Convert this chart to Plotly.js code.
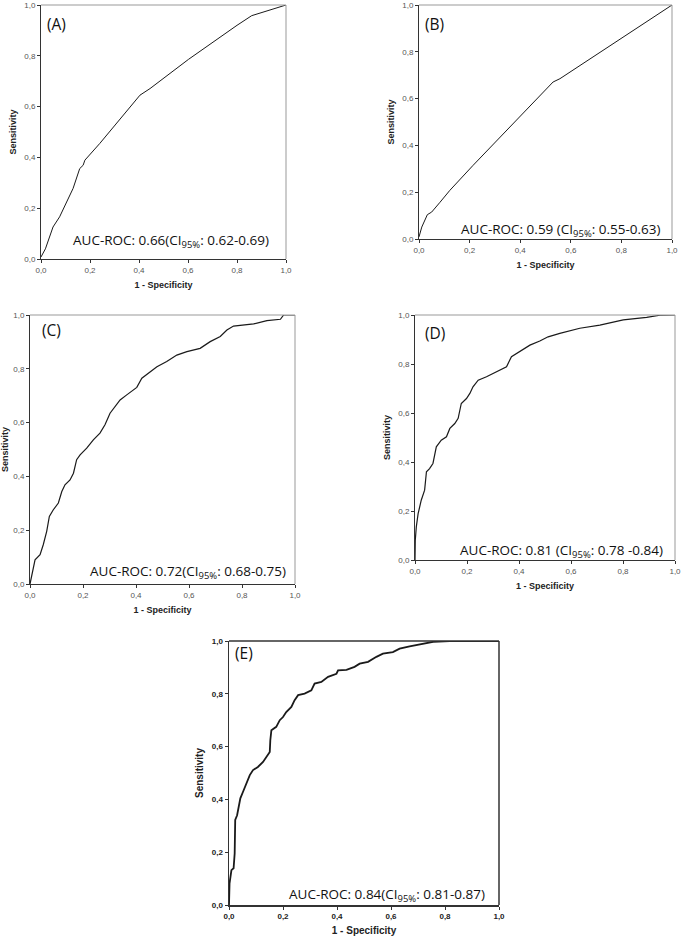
<!DOCTYPE html>
<html><head><meta charset="utf-8">
<script src="https://cdn.plot.ly/plotly-3.0.1.min.js"></script>
<style>html,body{margin:0;padding:0;background:#fff}</style>
</head><body><div id="chart" style="width:683px;height:936px"></div>
<script>
// ---- data ----
const tickVals = [0, 0.2, 0.4, 0.6, 0.8, 1.0];
const tickLabels = ['0,0', '0,2', '0,4', '0,6', '0,8', '1,0'];

const panelLabels = ['(A)', '(B)', '(C)', '(D)', '(E)'];
const aucTexts = [
  'AUC-ROC: 0.66(CI<sub>95%</sub>: 0.62-0.69)',
  'AUC-ROC: 0.59 (CI<sub>95%</sub>: 0.55-0.63)',
  'AUC-ROC: 0.72(CI<sub>95%</sub>: 0.68-0.75)',
  'AUC-ROC: 0.81 (CI<sub>95%</sub>: 0.78 -0.84)',
  'AUC-ROC: 0.84(CI<sub>95%</sub>: 0.81-0.87)'
];

const fprA = [0, 0.018, 0.049, 0.076, 0.131, 0.158, 0.172, 0.179, 0.24, 0.404, 0.445, 0.602, 0.8, 0.86, 1];
const tprA = [0.008, 0.04, 0.126, 0.166, 0.278, 0.356, 0.369, 0.389, 0.455, 0.645, 0.671, 0.786, 0.92, 0.958, 1];

const fprB = [0, 0.011, 0.033, 0.05, 0.083, 0.122, 0.214, 0.346, 0.53, 0.557, 1];
const tprB = [0.009, 0.051, 0.104, 0.115, 0.157, 0.208, 0.315, 0.464, 0.671, 0.685, 1];

const fprC = [0, 0.006, 0.019, 0.038, 0.05, 0.063, 0.073, 0.088, 0.107, 0.12, 0.132, 0.151, 0.164, 0.176, 0.189, 0.214, 0.239, 0.264, 0.283, 0.302, 0.321, 0.34, 0.365, 0.403, 0.422, 0.453, 0.479, 0.516, 0.554, 0.592, 0.642, 0.68, 0.718, 0.743, 0.768, 0.844, 0.894, 0.945, 0.957, 1];
const tprC = [0, 0.028, 0.09, 0.109, 0.146, 0.196, 0.251, 0.276, 0.301, 0.344, 0.369, 0.387, 0.412, 0.462, 0.48, 0.505, 0.536, 0.561, 0.592, 0.635, 0.66, 0.684, 0.703, 0.731, 0.765, 0.79, 0.808, 0.827, 0.851, 0.864, 0.876, 0.901, 0.92, 0.944, 0.959, 0.967, 0.979, 0.984, 1, 1];

const fprD = [0, 0.001, 0.005, 0.012, 0.024, 0.037, 0.044, 0.056, 0.069, 0.082, 0.101, 0.121, 0.134, 0.153, 0.166, 0.178, 0.198, 0.211, 0.223, 0.243, 0.275, 0.313, 0.352, 0.371, 0.403, 0.442, 0.48, 0.512, 0.557, 0.634, 0.711, 0.801, 0.891, 0.942, 1];
const tprD = [0, 0.08, 0.135, 0.189, 0.244, 0.285, 0.36, 0.373, 0.394, 0.462, 0.489, 0.503, 0.537, 0.557, 0.578, 0.639, 0.659, 0.68, 0.707, 0.734, 0.748, 0.768, 0.789, 0.83, 0.85, 0.877, 0.894, 0.911, 0.925, 0.946, 0.959, 0.98, 0.99, 0.999, 1];

const fprE = [0, 0.001, 0.002, 0.009, 0.017, 0.021, 0.023, 0.03, 0.037, 0.042, 0.052, 0.064, 0.077, 0.089, 0.107, 0.126, 0.138, 0.151, 0.153, 0.157, 0.175, 0.188, 0.2, 0.212, 0.231, 0.243, 0.256, 0.28, 0.305, 0.317, 0.342, 0.367, 0.398, 0.404, 0.435, 0.465, 0.484, 0.515, 0.546, 0.57, 0.607, 0.632, 0.669, 0.719, 0.756, 0.817, 1];
const tprE = [0, 0.032, 0.082, 0.132, 0.139, 0.195, 0.322, 0.34, 0.372, 0.404, 0.429, 0.46, 0.492, 0.511, 0.523, 0.542, 0.561, 0.58, 0.624, 0.662, 0.675, 0.7, 0.712, 0.731, 0.75, 0.776, 0.795, 0.801, 0.813, 0.839, 0.845, 0.864, 0.876, 0.889, 0.891, 0.902, 0.914, 0.921, 0.94, 0.952, 0.958, 0.971, 0.98, 0.99, 0.997, 1, 1];

// ---- layout (pixel boxes of each plot area) ----
const W = 683, H = 936;
const boxes = [
  {l: 41, r: 286, t: 5, b: 259},
  {l: 419, r: 672, t: 5, b: 239},
  {l: 30, r: 295, t: 315, b: 584},
  {l: 415, r: 675, t: 315, b: 560},
  {l: 229, r: 499, t: 641, b: 905}
];
const labelPos = [[0.016, 0.925], [0.016, 0.919], [0.038, 0.944], [0.031, 0.927], [0.015, 0.955]];
const aucPos = [[0.939, 0.071], [0.964, 0.038], [0.974, 0.045], [0.962, 0.037], [0.956, 0.038]];

const series = [[fprA, tprA], [fprB, tprB], [fprC, tprC], [fprD, tprD], [fprE, tprE]];
const lineW = [1, 1, 1.2, 1.2, 1.8];

const data = [];
const layout = {
  width: W, height: H, margin: {l: 0, r: 0, t: 0, b: 0},
  paper_bgcolor: '#fff', plot_bgcolor: '#fff', showlegend: false,
  annotations: [], shapes: []
};

series.forEach((s, i) => {
  const n = i === 0 ? '' : String(i + 1);
  const xa = 'x' + n, ya = 'y' + n;
  data.push({x: s[0], y: s[1], xaxis: xa, yaxis: ya, type: 'scatter', mode: 'lines',
    line: {color: '#1a1a1a', width: lineW[i], shape: 'linear'}, hoverinfo: 'skip'});
  const b = boxes[i];
  const bold = i === 4;
  const tf = {family: 'Liberation Sans, Arial, sans-serif', size: 8, color: bold ? '#222' : '#555', weight: bold ? 'bold' : 'normal'};
  const tt = {family: 'Liberation Sans, Arial, sans-serif', size: bold ? 10 : 9, color: '#222', weight: 'bold'};
  layout['xaxis' + n] = {
    domain: [b.l / W, b.r / W], anchor: ya, range: [0, 1], fixedrange: true,
    showgrid: false, zeroline: false, showline: true, linecolor: '#333', linewidth: bold ? 1.5 : 1,
    ticks: 'outside', ticklen: 3, tickcolor: '#333', tickvals: tickVals, ticktext: tickLabels,
    tickfont: tf, title: {text: '1 - Specificity', font: tt, standoff: 8}
  };
  layout['yaxis' + n] = {
    domain: [1 - b.b / H, 1 - b.t / H], anchor: xa, range: [0, 1], fixedrange: true,
    showgrid: false, zeroline: false, showline: true, linecolor: '#333', linewidth: bold ? 1.5 : 1,
    ticks: 'outside', ticklen: 3, tickcolor: '#333', tickvals: tickVals, ticktext: tickLabels,
    tickfont: tf, title: {text: 'Sensitivity', font: tt, standoff: 6}
  };
  layout.shapes.push({type: 'line', xref: xa + ' domain', yref: ya + ' domain', x0: 0, x1: 1, y0: 1, y1: 1,
    line: {color: bold ? '#333' : '#999', width: bold ? 1.5 : 1}});
  layout.shapes.push({type: 'line', xref: xa + ' domain', yref: ya + ' domain', x0: 1, x1: 1, y0: 0, y1: 1,
    line: {color: bold ? '#333' : '#999', width: bold ? 1.5 : 1}});
  layout.annotations.push({xref: xa, yref: ya, x: labelPos[i][0], y: labelPos[i][1], xanchor: 'left', yanchor: 'middle',
    text: panelLabels[i], showarrow: false, font: {family: 'Open Sans, Noto Sans, sans-serif', size: 15.5, color: '#111'}});
  layout.annotations.push({xref: xa, yref: ya, x: aucPos[i][0], y: aucPos[i][1], xanchor: 'right', yanchor: 'middle',
    text: aucTexts[i], showarrow: false, font: {family: 'Open Sans, Noto Sans, sans-serif', size: 13.5, color: '#111'}});
});

Plotly.newPlot('chart', data, layout, {staticPlot: true, displayModeBar: false});
</script></body></html>
